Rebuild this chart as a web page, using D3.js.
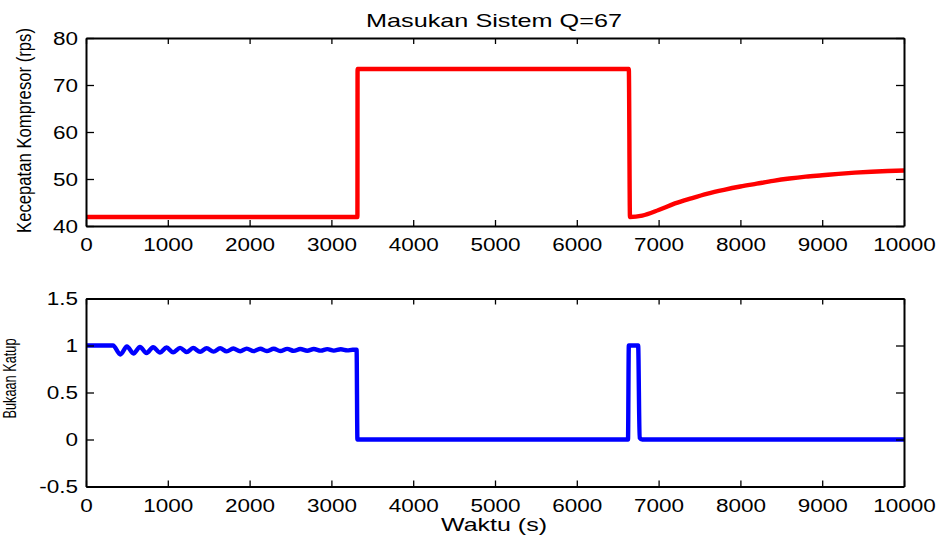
<!DOCTYPE html>
<html>
<head>
<meta charset="utf-8">
<script src="https://cdn.jsdelivr.net/npm/d3@7"></script>
<style>
  html, body { margin: 0; padding: 0; background: #fff; }
  svg { display: block; font-family: "Liberation Sans", Arial, sans-serif; }
</style>
</head>
<body>
<svg id="chart" width="942" height="539"></svg>
<script>
// ---------- data ----------
const titleText = "Masukan Sistem Q=67";
const xLabelText = "Waktu (s)";
const yLabelTop = "Kecepatan Kompresor (rps)";
const yLabelBottom = "Bukaan Katup";

const xTicks = [0, 1000, 2000, 3000, 4000, 5000, 6000, 7000, 8000, 9000, 10000];
const yTicksTop = [40, 50, 60, 70, 80];
const yTicksBottom = [-0.5, 0, 0.5, 1, 1.5];

// compressor speed (top, red)
const speedTime = [0, 3318, 3320, 6636, 6650, 6800, 7000, 7200, 7400, 7600, 7800, 8000, 8200, 8400, 8600, 8800, 9000, 9200, 9400, 9600, 9800, 10000];
const speedValue = [41.9, 41.9, 73.4, 73.4, 41.9, 42.2, 43.4, 44.8, 45.9, 46.9, 47.7, 48.4, 49.0, 49.6, 50.1, 50.5, 50.8, 51.1, 51.35, 51.55, 51.7, 51.8];

// valve opening (bottom, blue)
const valveTime = [0, 330, 420, 500, 580, 660, 740, 820, 905, 985, 1065, 1150, 1230, 1310, 1395, 1475, 1560, 1640, 1720, 1800, 1885, 1965, 2050, 2130, 2210, 2295, 2375, 2460, 2540, 2620, 2705, 2785, 2870, 2950, 3030, 3115, 3195, 3260, 3308, 3318, 6626, 6636, 6750, 6768, 6800, 10000];
const valveValue = [1.0, 1.0, 0.905, 0.99, 0.915, 0.985, 0.92, 0.982, 0.925, 0.978, 0.928, 0.975, 0.931, 0.973, 0.933, 0.971, 0.935, 0.97, 0.937, 0.968, 0.939, 0.967, 0.94, 0.966, 0.941, 0.965, 0.942, 0.964, 0.943, 0.963, 0.944, 0.962, 0.945, 0.961, 0.946, 0.96, 0.948, 0.955, 0.955, 0.0, 0.0, 1.0, 1.0, 0.02, 0.0, 0.0];

// ---------- layout ----------
const svg = d3.select("#chart");
const left = 86, right = 904;
const panels = [
  { top: 38, bottom: 226, domain: [40, 80], ticks: yTicksTop, time: speedTime, values: speedValue, color: "#ff0000" },
  { top: 298.5, bottom: 486.5, domain: [-0.5, 1.5], ticks: yTicksBottom, time: valveTime, values: valveValue, color: "#0000ff" }
];

const x = d3.scaleLinear().domain([0, 10000]).range([left, right]);
const SX = 1.25;

panels.forEach(p => {
  const y = d3.scaleLinear().domain(p.domain).range([p.bottom, p.top]);

  const pts = p.time.map((t, i) => [t, p.values[i]]);
  svg.append("path")
    .datum(pts)
    .attr("fill", "none")
    .attr("stroke", p.color)
    .attr("stroke-width", 4.4)
    .attr("stroke-linejoin", "round")
    .attr("d", d3.line().x(d => x(d[0])).y(d => y(d[1])).curve(d3.curveMonotoneX));

  const gb = svg.append("g").attr("transform", `translate(0,${p.bottom})`)
    .call(d3.axisBottom(x).tickValues(xTicks).tickSize(-6).tickSizeOuter(0).tickFormat(d3.format("d")));
  gb.selectAll("text")
    .attr("y", 0).attr("dy", 0)
    .attr("transform", `translate(0,25) scale(${SX},1)`)
    .attr("fill", "#000").style("font-size", "18px");

  svg.append("g").attr("transform", `translate(0,${p.top})`)
    .call(d3.axisTop(x).tickValues(xTicks).tickSize(-6).tickSizeOuter(0).tickFormat(""));

  const gl = svg.append("g").attr("transform", `translate(${left},0)`)
    .call(d3.axisLeft(y).tickValues(p.ticks).tickSize(-8).tickSizeOuter(0).tickFormat(d => d));
  gl.selectAll("text")
    .attr("x", 0).attr("dy", "0.36em")
    .attr("transform", `translate(-8,0) scale(${SX},1)`)
    .attr("fill", "#000").style("font-size", "18px");

  svg.append("g").attr("transform", `translate(${right},0)`)
    .call(d3.axisRight(y).tickValues(p.ticks).tickSize(-8).tickSizeOuter(0).tickFormat(""));

  svg.selectAll(".domain").attr("stroke", "#000").attr("stroke-width", 2);
  svg.selectAll(".tick line").attr("stroke", "#000").attr("stroke-width", 1.3);
});

svg.append("text")
  .attr("x", 494).attr("y", 26.5)
  .attr("text-anchor", "middle")
  .attr("textLength", 256).attr("lengthAdjust", "spacingAndGlyphs")
  .style("font-size", "18.5px").attr("fill", "#000")
  .text(titleText);

svg.append("text")
  .attr("x", 494).attr("y", 531)
  .attr("text-anchor", "middle")
  .attr("textLength", 106).attr("lengthAdjust", "spacingAndGlyphs")
  .style("font-size", "18.5px").attr("fill", "#000")
  .text(xLabelText);

svg.append("text")
  .attr("transform", "translate(30.5,130.5) scale(1.22,1) rotate(-90)")
  .attr("text-anchor", "middle")
  .attr("textLength", 205).attr("lengthAdjust", "spacingAndGlyphs")
  .style("font-size", "16.7px").attr("fill", "#000")
  .text(yLabelTop);

svg.append("text")
  .attr("transform", "translate(15.5,378.5) scale(1.38,1) rotate(-90)")
  .attr("text-anchor", "middle")
  .attr("textLength", 80).attr("lengthAdjust", "spacingAndGlyphs")
  .style("font-size", "12.8px").attr("fill", "#000")
  .text(yLabelBottom);
</script>
</body>
</html>
